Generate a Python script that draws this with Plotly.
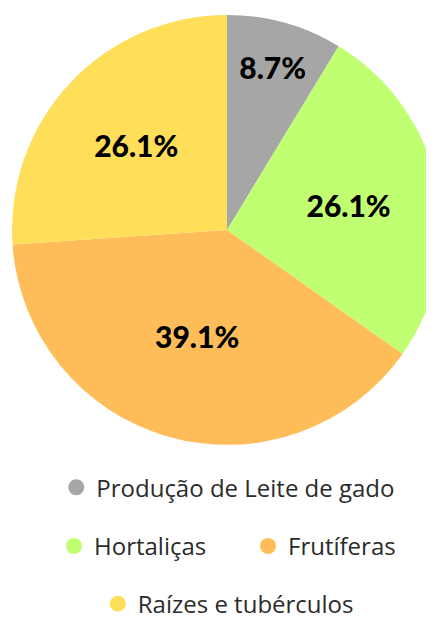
import plotly.graph_objects as go

categories = ["Produção de Leite de gado", "Hortaliças", "Frutíferas", "Raízes e tubérculos"]
values = [2, 6, 9, 6]
colors = ["#A6A6A6", "#C1FF72", "#FFBD59", "#FFDE59"]
legend_rows = ["legend", "legend2", "legend2", "legend3"]

W, H = 434, 619

fig = go.Figure()
fig.add_trace(go.Pie(
    labels=categories,
    values=values,
    sort=False,
    direction="clockwise",
    rotation=0,
    marker=dict(colors=colors, line=dict(width=0)),
    textinfo="percent",
    texttemplate="%{percent:.1%}",
    textposition="inside",
    insidetextorientation="horizontal",
    textfont=dict(family="Lato", size=30, color="#000000", weight=900),
    domain=dict(x=[0.0, 1.0], y=[1 - 439 / H, 1 - 7 / H]),
    showlegend=False,
    hoverinfo="label+percent",
))

for name, col, lg in zip(categories, colors, legend_rows):
    fig.add_trace(go.Scatter(
        x=[None], y=[None], mode="markers", name=name,
        marker=dict(color=col, size=24, symbol="circle"),
        legend=lg, showlegend=True,
    ))

legend_font = dict(family="Open Sans", size=24, color="#2B2B2B")
common = dict(orientation="h", yanchor="middle",
              font=legend_font, bgcolor="rgba(0,0,0,0)", itemclick=False, itemdoubleclick=False)

fig.update_layout(
    width=W, height=H,
    margin=dict(l=4, r=0, t=0, b=0),
    paper_bgcolor="white", plot_bgcolor="white",
    xaxis=dict(visible=False), yaxis=dict(visible=False),
    legend=dict(x=0.503, xanchor="center", y=1 - 482 / H, **common),
    legend2=dict(x=1.0, xanchor="right", y=1 - 541 / H, entrywidth=149, **common),
    legend3=dict(x=0.503, xanchor="center", y=1 - 599 / H, **common),
)

fig.write_html("out.html")
